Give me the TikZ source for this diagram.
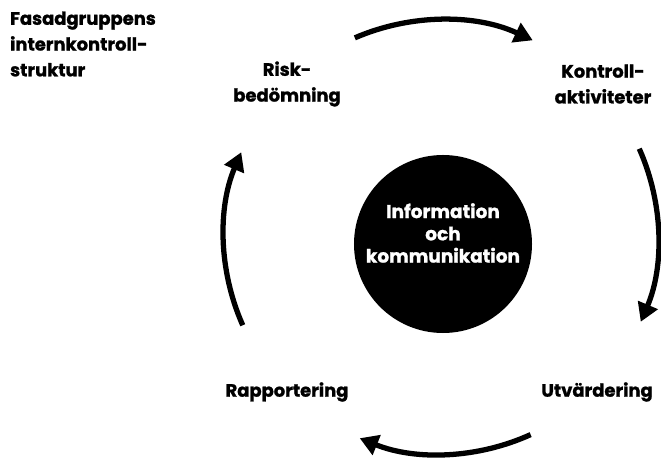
\documentclass[tikz,border=0pt]{standalone}
\usepackage{fontspec}
\setmainfont{Poppins}[BoldFeatures={FakeBold=1.2}]
\usetikzlibrary{arrows.meta}

\begin{document}
\begin{tikzpicture}[x=0.03cm,y=0.03cm]

\tikzset{phasetext/.style={font=\bfseries\fontsize{15.3}{22}\selectfont, align=center},
         cyclearrow/.style={line width=4.5pt, -{Triangle[length=0.55cm,width=0.62cm]}}}

%\draw[help lines] (0,0) grid (661,-458);
\useasboundingbox (0,0) rectangle (661,-458);

%% title
\node [phasetext, align=left, anchor=west] (title) at (6,-44) {Fasadgruppens\\internkontroll-\\struktur};

%% centre
\node [circle, fill=black, minimum size=5.34cm, inner sep=0pt] (info) at (443,-244) {};
\node [phasetext, text=white, font=\bfseries\fontsize{15.8}{19}\selectfont] (infotext) at (443,-233) {Information\\och\\kommunikation};

%% the four steps
\node [phasetext] (risk) at (287,-84) {Risk-\\bedömning};
\node [phasetext] (kontroll) at (603,-84) {Kontroll-\\aktiviteter};
\node [phasetext] (utv) at (597,-392) {Utvärdering};
\node [phasetext] (rapp) at (287,-392) {Rapportering};

%% arrows round the ring
\coordinate (ring) at (441,-237);
\draw [cyclearrow] (ring) ++(113.4:6.51cm) arc (113.4:65:6.51cm);
\draw [cyclearrow] (ring) ++(24:6.51cm) arc (24:-23:6.51cm);
\draw [cyclearrow] (ring) ++(-65.6:6.51cm) arc (-65.6:-112:6.51cm);
\draw [cyclearrow] (ring) ++(-156:6.51cm) arc (-156:-203:6.51cm);

\end{tikzpicture}
\end{document}
